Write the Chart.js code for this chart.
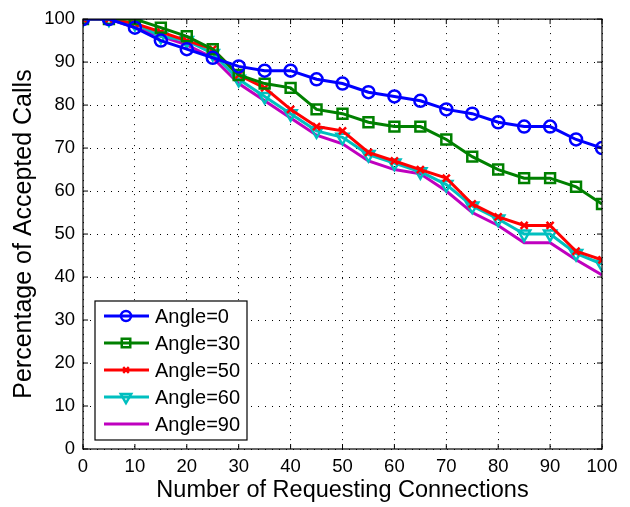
<!DOCTYPE html>
<html>
<head>
<meta charset="utf-8">
<script src="https://cdn.jsdelivr.net/npm/chart.js@4.4.1/dist/chart.umd.min.js"></script>
<style>
  html, body { margin: 0; padding: 0; background: #fff; }
  #wrap { width: 630px; height: 507px; position: relative; }
</style>
</head>
<body>
<div id="wrap"><canvas id="chart"></canvas></div>
<script>
// Number of requesting connections
const connections = [0, 5, 10, 15, 20, 25, 30, 35, 40, 45, 50, 55, 60, 65, 70, 75, 80, 85, 90, 95, 100];

// Percentage of accepted calls per angle
const angle0  = [100, 100, 98, 95, 93, 91, 89, 88, 88, 86, 85, 83, 82, 81, 79, 78, 76, 75, 75, 72, 70];
const angle30 = [100, 100, 100, 98, 96, 93, 87, 85, 84, 79, 78, 76, 75, 75, 72, 68, 65, 63, 63, 61, 57];
const angle50 = [100, 100, 99, 97, 95, 93, 87, 84, 79, 75, 74, 69, 67, 65, 63, 57, 54, 52, 52, 46, 44];
const angle60 = [100, 100, 99, 96, 95, 92, 86, 82, 78, 74, 72.5, 68.5, 66.5, 64.5, 61.5, 56.5, 53.5, 50, 50, 45.5, 43];
const angle90 = [100, 100, 98, 96, 94, 91, 85, 81, 77, 73, 71, 67, 65, 64, 60, 55, 52, 48, 48, 44, 40.5];

const seriesLabels = ['Angle=0', 'Angle=30', 'Angle=50', 'Angle=60', 'Angle=90'];

const FONT = "'Liberation Sans', Arial, Helvetica, sans-serif";

function pts(ys) {
  return connections.map((x, i) => ({ x, y: ys[i] }));
}

function series(label, ys, color, style, radius, rotation) {
  return {
    label,
    data: pts(ys),
    borderColor: color,
    backgroundColor: 'transparent',
    borderWidth: 3,
    pointStyle: style,
    pointRadius: style ? radius : 0,
    pointBorderWidth: 2.5,
    pointBorderColor: color,
    pointBackgroundColor: 'transparent',
    pointRotation: rotation || 0,
    tension: 0,
  };
}

// frame + inward ticks, matlab style
const framePlugin = {
  id: 'frame',
  afterDatasetsDraw(chart) {
    const { ctx, chartArea: a, scales } = chart;
    ctx.save();
    ctx.strokeStyle = '#000';
    ctx.lineWidth = 1.2;
    ctx.strokeRect(a.left, a.top, a.right - a.left, a.bottom - a.top);
    ctx.lineWidth = 1;
    const len = 5;
    ctx.beginPath();
    scales.x.ticks.forEach((t) => {
      const px = scales.x.getPixelForValue(t.value);
      ctx.moveTo(px, a.bottom); ctx.lineTo(px, a.bottom - len);
      ctx.moveTo(px, a.top); ctx.lineTo(px, a.top + len);
    });
    scales.y.ticks.forEach((t) => {
      const py = scales.y.getPixelForValue(t.value);
      ctx.moveTo(a.left, py); ctx.lineTo(a.left + len, py);
      ctx.moveTo(a.right, py); ctx.lineTo(a.right - len, py);
    });
    ctx.stroke();
    ctx.restore();
  },
};

// legend box inside the plot, lower left
const boxLegend = {
  id: 'boxLegend',
  afterDraw(chart) {
    const { ctx, chartArea: a } = chart;
    const x0 = a.left + 12, y0 = 301, w = 152, h = 139;
    ctx.save();
    ctx.fillStyle = '#fff';
    ctx.fillRect(x0, y0, w, h);
    ctx.strokeStyle = '#000';
    ctx.lineWidth = 1.2;
    ctx.strokeRect(x0, y0, w, h);
    ctx.font = '20px ' + FONT;
    ctx.textBaseline = 'middle';
    ctx.textAlign = 'left';
    chart.data.datasets.forEach((ds, i) => {
      const cy = y0 + 15 + i * 27;
      ctx.strokeStyle = ds.borderColor;
      ctx.lineWidth = 3;
      ctx.beginPath();
      ctx.moveTo(x0 + 9, cy);
      ctx.lineTo(x0 + 54, cy);
      ctx.stroke();
      if (ds.pointStyle) {
        ctx.lineWidth = 2.5;
        ctx.fillStyle = 'rgba(0,0,0,0)';
        Chart.helpers.drawPoint(ctx, {
          pointStyle: ds.pointStyle,
          radius: ds.pointRadius - 1,
          rotation: ds.pointRotation,
          borderWidth: 2.5,
        }, x0 + 31, cy);
      }
      ctx.fillStyle = '#000';
      ctx.fillText(ds.label, x0 + 60, cy + 1);
    });
    ctx.restore();
  },
};

new Chart(document.getElementById('chart'), {
  type: 'line',
  data: {
    datasets: [
      series(seriesLabels[0], angle0, '#0000ff', 'circle', 6),
      series(seriesLabels[1], angle30, '#008000', 'rect', 7),
      series(seriesLabels[2], angle50, '#ff0000', 'crossRot', 5),
      series(seriesLabels[3], angle60, '#00bfbf', 'triangle', 7, 180),
      series(seriesLabels[4], angle90, '#bf00bf', false, 0),
    ],
  },
  options: {
    responsive: true,
    maintainAspectRatio: false,
    animation: false,
    layout: { padding: { top: 12, right: 28, left: 0, bottom: 0 } },
    plugins: { legend: { display: false }, tooltip: { enabled: false } },
    scales: {
      x: {
        type: 'linear',
        min: 0, max: 100,
        afterFit: (s) => { s.height = 58; },
        ticks: { stepSize: 10, color: '#000', padding: 7, font: { family: FONT, size: 18.5 }, maxRotation: 0 },
        grid: { color: '#000', lineWidth: 1, drawTicks: false },
        border: { display: false, dash: [1, 6] },
        title: {
          display: true,
          text: 'Number of Requesting Connections',
          color: '#000',
          font: { family: FONT, size: 23.5 },
          padding: { top: 0, bottom: 2 },
        },
      },
      y: {
        min: 0, max: 100,
        afterFit: (s) => { s.width = 83; },
        ticks: { stepSize: 10, color: '#000', padding: 8, font: { family: FONT, size: 18.5 } },
        grid: { color: '#000', lineWidth: 1, drawTicks: false },
        border: { display: false, dash: [1, 6] },
        title: {
          display: true,
          text: 'Percentage of Accepted Calls',
          color: '#000',
          font: { family: FONT, size: 25 },
          padding: { top: 9, bottom: 0 },
        },
      },
    },
  },
  plugins: [framePlugin, boxLegend],
});
</script>
</body>
</html>
